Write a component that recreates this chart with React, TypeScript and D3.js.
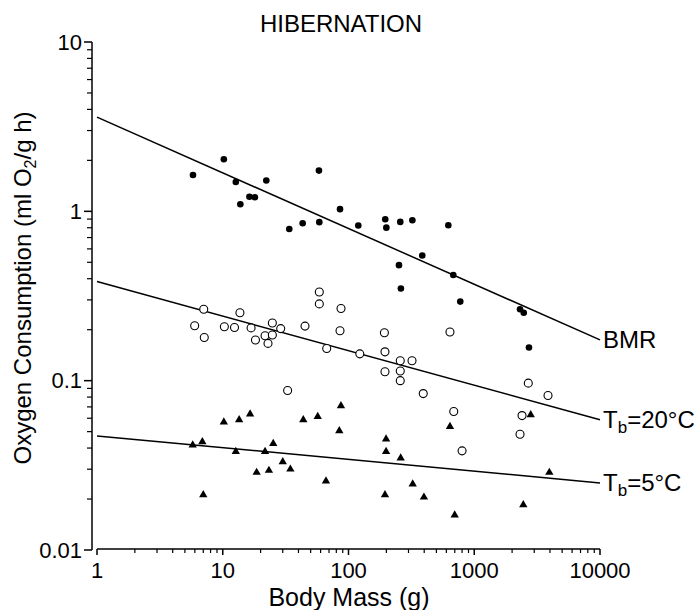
import React from "react";
import * as d3 from "d3";

const title = "HIBERNATION";
const xTickValues = [1, 10, 100, 1000, 10000];
const xTickLabels = ["1", "10", "100", "1000", "10000"];
const yTickValues = [0.01, 0.1, 1, 10];
const yTickLabels = ["0.01", "0.1", "1", "10"];

// BMR (filled circles)
const bmrMass = [5.8, 10.2, 12.7, 13.8, 16.3, 18.0, 22.2, 33.8, 43.2, 58.2, 58.6, 85.6, 119.6, 196, 200, 258, 322, 622, 386, 252, 261, 681, 774, 2312, 2475, 2724];
const bmrRate = [1.64, 2.03, 1.49, 1.10, 1.22, 1.21, 1.52, 0.787, 0.851, 1.74, 0.863, 1.03, 0.824, 0.898, 0.801, 0.866, 0.886, 0.828, 0.548, 0.481, 0.350, 0.421, 0.293, 0.264, 0.252, 0.157];

// Tb = 20 °C (open circles)
const t20Mass = [58.6, 58.6, 87.2, 7.06, 13.7, 5.98, 10.3, 12.4, 16.8, 24.8, 28.9, 45.1, 85.6, 7.13, 18.2, 21.7, 24.8, 22.9, 67.1, 193, 641, 258, 2690, 393, 3860, 687, 2399, 2312, 800, 32.8, 123, 195, 195, 258, 258, 320];
const t20Rate = [0.334, 0.284, 0.267, 0.264, 0.252, 0.211, 0.208, 0.206, 0.205, 0.219, 0.203, 0.210, 0.197, 0.180, 0.174, 0.184, 0.186, 0.166, 0.155, 0.192, 0.194, 0.100, 0.0967, 0.0839, 0.0817, 0.0658, 0.0622, 0.0483, 0.0385, 0.0875, 0.144, 0.148, 0.113, 0.131, 0.114, 0.131];

// Tb = 5 °C (filled triangles)
const t5Mass = [5.77, 6.88, 7.0, 10.2, 13.5, 16.5, 12.7, 18.6, 21.7, 25.2, 23.3, 30.0, 34.5, 43.7, 56.9, 87.1, 84.5, 66.2, 199, 199, 260, 641, 2812, 3954, 324, 195, 398, 2455, 699];
const t5Rate = [0.0416, 0.0435, 0.0212, 0.0569, 0.0587, 0.0634, 0.0381, 0.0287, 0.0381, 0.0425, 0.0295, 0.0332, 0.0300, 0.0587, 0.0614, 0.0710, 0.0506, 0.0255, 0.0452, 0.0381, 0.0349, 0.0536, 0.0628, 0.0287, 0.0245, 0.0212, 0.0205, 0.0185, 0.0161];

// fitted lines (value at mass 1 g and 10000 g)
const lineMass = [1, 10000];
const bmrFit = [3.6, 0.174];
const t20Fit = [0.385, 0.0587];
const t5Fit = [0.0472, 0.0249];

const FONT = "'Liberation Sans', Arial, Helvetica, sans-serif";

export default function App() {
  const x = d3.scaleLog().domain([1, 10000]).range([97, 600]);
  const y = d3.scaleLog().domain([0.01, 10]).range([550, 42]);
  const yAxisX = 92;
  const xAxisY = 549;

  const xMinor: number[] = [];
  for (let k = 0; k < 4; k++) for (let i = 2; i <= 9; i++) xMinor.push(i * Math.pow(10, k));
  const yMinor: number[] = [];
  for (let k = -2; k < 1; k++) for (let i = 2; i <= 9; i++) yMinor.push(i * Math.pow(10, k));

  const line = d3
    .line<[number, number]>()
    .x((d) => x(d[0]))
    .y((d) => y(d[1]));

  const fits = [bmrFit, t20Fit, t5Fit];
  const tri = d3.symbol().type(d3.symbolTriangle).size(30)() as string;

  return (
    <svg
      width={700}
      height={610}
      style={{ position: "absolute", left: 0, top: 0, background: "#fff" }}
      fontFamily={FONT}
    >
      <rect width={700} height={610} fill="#fff" />
      <text x={341} y={32} fontSize={24} textAnchor="middle" fill="#000">
        {title}
      </text>

      {/* Y axis */}
      <line x1={yAxisX} x2={yAxisX} y1={y(10)} y2={y(0.01)} stroke="#000" strokeWidth={1.5} />
      {yTickValues.map((v, i) => (
        <g key={"yt" + i}>
          <line x1={yAxisX - 8} x2={yAxisX} y1={y(v)} y2={y(v)} stroke="#000" strokeWidth={1.5} />
          <text x={yAxisX - 10} y={y(v)} dy="0.35em" fontSize={22} textAnchor="end" fill="#000">
            {yTickLabels[i]}
          </text>
        </g>
      ))}
      {yMinor.map((v, i) => (
        <line key={"ym" + i} x1={yAxisX - 5} x2={yAxisX} y1={y(v)} y2={y(v)} stroke="#000" strokeWidth={1.2} />
      ))}

      {/* X axis */}
      <line x1={x(1)} x2={x(10000)} y1={xAxisY} y2={xAxisY} stroke="#000" strokeWidth={1.5} />
      {xTickValues.map((v, i) => (
        <g key={"xt" + i}>
          <line x1={x(v)} x2={x(v)} y1={xAxisY} y2={xAxisY + 6} stroke="#000" strokeWidth={1.5} />
          <text x={x(v)} y={578} fontSize={22} textAnchor="middle" fill="#000">
            {xTickLabels[i]}
          </text>
        </g>
      ))}
      {xMinor.map((v, i) => (
        <line key={"xm" + i} x1={x(v)} x2={x(v)} y1={xAxisY} y2={xAxisY + 4} stroke="#000" strokeWidth={1.2} />
      ))}

      <text x={349} y={606} fontSize={25} textAnchor="middle" fill="#000">
        Body Mass (g)
      </text>
      <text
        transform="translate(31,288) rotate(-90)"
        fontSize={24}
        textAnchor="middle"
        fill="#000"
      >
        Oxygen Consumption (ml O<tspan fontSize={16} dy="5">2</tspan>
        <tspan dy="-5">/g h)</tspan>
      </text>

      {/* fitted lines */}
      {fits.map((f, i) => (
        <path
          key={"fit" + i}
          d={line(lineMass.map((m, j) => [m, f[j]]) as [number, number][]) || ""}
          fill="none"
          stroke="#000"
          strokeWidth={1.5}
        />
      ))}

      {/* points */}
      {bmrMass.map((m, i) => (
        <circle key={"b" + i} cx={x(m)} cy={y(bmrRate[i])} r={3.3} fill="#000" />
      ))}
      {t20Mass.map((m, i) => (
        <circle key={"o" + i} cx={x(m)} cy={y(t20Rate[i])} r={4} fill="#fff" stroke="#000" strokeWidth={1.1} />
      ))}
      {t5Mass.map((m, i) => (
        <path key={"t" + i} d={tri} transform={`translate(${x(m)},${y(t5Rate[i])})`} fill="#000" />
      ))}

      {/* line labels */}
      <text x={603} y={y(bmrFit[1])} dy="0.35em" fontSize={24} fill="#000">
        BMR
      </text>
      <text x={603} y={y(t20Fit[1])} dy="0.35em" fontSize={24} fill="#000">
        T<tspan fontSize={17} dy="5">b</tspan>
        <tspan dy="-5">=20°C</tspan>
      </text>
      <text x={603} y={y(t5Fit[1])} dy="0.35em" fontSize={24} fill="#000">
        T<tspan fontSize={17} dy="5">b</tspan>
        <tspan dy="-5">=5°C</tspan>
      </text>
    </svg>
  );
}
